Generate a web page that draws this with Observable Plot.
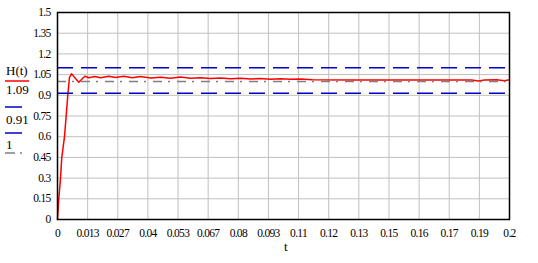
<!DOCTYPE html>
<html><head><meta charset="utf-8">
<script src="https://cdn.jsdelivr.net/npm/d3@7"></script>
<script src="https://cdn.jsdelivr.net/npm/@observablehq/plot@0.6"></script>
<style>
body{margin:0;background:#fff;}
#wrap{position:relative;width:538px;height:263px;overflow:hidden;}
#legend{position:absolute;left:0;top:0;}
#legend text{font-family:"Liberation Serif",serif;font-size:13px;fill:#000;}
</style></head><body>
<div id="wrap"><div id="chart"></div><svg id="legend" width="40" height="263"></svg></div>
<script>
// Time samples and response H(t)
const tValues = [0, 0.000575, 0.00133, 0.0019, 0.0031, 0.00398, 0.00465, 0.00531, 0.0062, 0.00752,
  0.00942, 0.01062, 0.01208, 0.01385, 0.0165, 0.01903, 0.0227, 0.02566, 0.02934, 0.03305,
  0.03673, 0.04115, 0.04558, 0.05, 0.05442, 0.05885, 0.06327, 0.0677, 0.07212, 0.07655,
  0.08097, 0.0854, 0.08982, 0.09425, 0.09867, 0.1031, 0.10752, 0.11283, 0.12965, 0.15177,
  0.16947, 0.1832, 0.1863, 0.18894, 0.19425, 0.19779, 0.2];
const hValues = [0, 0.15, 0.3, 0.45, 0.6, 0.78, 0.92, 1.03, 1.056, 1.03,
  0.995, 1.015, 1.038, 1.027, 1.036, 1.027, 1.038, 1.029, 1.038, 1.027,
  1.036, 1.025, 1.03, 1.024, 1.032, 1.024, 1.028, 1.022, 1.026, 1.02,
  1.024, 1.019, 1.022, 1.017, 1.02, 1.016, 1.018, 1.012, 1.011, 1.011,
  1.01, 1.011, 1.004, 1.011, 1.012, 1.005, 1.012];
const upperLevel = 1.1;
const lowerLevel = 0.915;
const targetLevel = 1.0;
const legendNames = ["H(t)", "1.09", "0.91", "1"];
const xTickLabels = ["0","0.013","0.027","0.04","0.053","0.067","0.08","0.093","0.11","0.12","0.13","0.15","0.16","0.17","0.19","0.2"];
const xTickValues = xTickLabels.map((_, i) => i * 0.2 / 15);
const yTickLabels = ["0","0.15","0.3","0.45","0.6","0.75","0.9","1.05","1.2","1.35","1.5"];
const yTickValues = yTickLabels.map(Number);
const xLabel = "t";

const series = tValues.map((t, i) => ({t, h: hValues[i]}));

const chart = Plot.plot({
  width: 538, height: 263,
  marginLeft: 57, marginRight: 29, marginTop: 12, marginBottom: 44,
  style: {fontFamily: "Liberation Serif, serif", fontSize: "11.5px", letterSpacing: "-0.7px", color: "#000", background: "#fff"},
  x: {domain: [0, 0.2]},
  y: {domain: [0, 1.5]},
  marks: [
    Plot.gridX(xTickValues, {stroke: "#c0c0c0", strokeOpacity: 1, strokeWidth: 1}),
    Plot.gridY(yTickValues, {stroke: "#c0c0c0", strokeOpacity: 1, strokeWidth: 1}),
    Plot.line(series, {x: "t", y: "h", stroke: "#ff0000", strokeWidth: 1.5}),
    Plot.ruleY([upperLevel], {stroke: "#0000c8", strokeWidth: 1.5, strokeDasharray: "16,8"}),
    Plot.ruleY([lowerLevel], {stroke: "#0000c8", strokeWidth: 1.5, strokeDasharray: "16,8"}),
    Plot.ruleY([targetLevel], {stroke: "#808080", strokeWidth: 1.5, strokeDasharray: "9,6,2,7"}),
    Plot.frame({stroke: "#000", strokeWidth: 1.5}),
    Plot.axisX({ticks: xTickValues, tickSize: 0, tickPadding: 9, label: null,
      tickFormat: d => xTickLabels[xTickValues.indexOf(d)]}),
    Plot.axisY({ticks: yTickValues, tickSize: 0, tickPadding: 7, label: null,
      tickFormat: d => yTickLabels[yTickValues.indexOf(d)]}),
    Plot.text([xLabel], {frameAnchor: "bottom", dy: 31, dx: 2, fontSize: 13})
  ]
});
document.getElementById("chart").appendChild(chart);

// Legend (left side)
const lg = d3.select("#legend");
const entries = [
  {name: legendNames[0], ty: 75, ly: 81, x2: 29, stroke: "#ff0000", dash: null},
  {name: legendNames[1], ty: 94, ly: 107, x2: 22, stroke: "#0000c8", dash: null},
  {name: legendNames[2], ty: 124, ly: 133, x2: 22, stroke: "#0000c8", dash: null},
  {name: legendNames[3], ty: 149, ly: 153, x2: 22, stroke: "#808080", dash: "10,5,2,20"}
];
for (const e of entries) {
  lg.append("text").attr("x", 6).attr("y", e.ty).text(e.name);
  lg.append("line").attr("x1", 5).attr("x2", e.x2).attr("y1", e.ly).attr("y2", e.ly)
    .attr("stroke", e.stroke).attr("stroke-width", 1.5)
    .attr("stroke-dasharray", e.dash);
}
</script>
</body></html>
